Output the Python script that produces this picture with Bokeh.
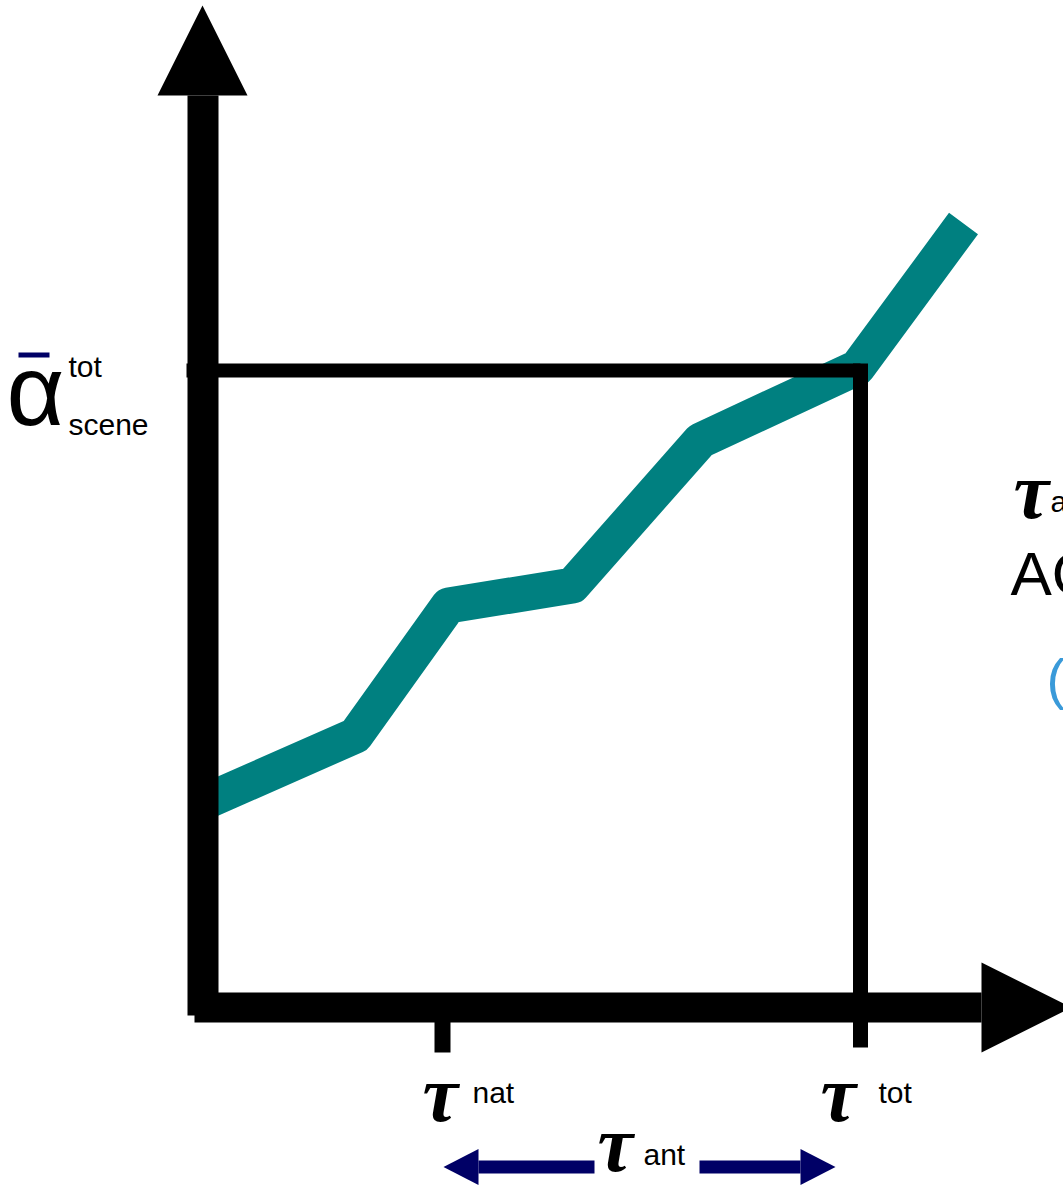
from bokeh.plotting import figure
from bokeh.models import Range1d
from bokeh.core.properties import value
from bokeh.embed import file_html
from bokeh.resources import INLINE

# ---- data (schematic units: origin at the axes' corner) ----
tau_curve = [0, 152, 245, 369, 497, 654, 760]
alpha_curve = [205, 272, 402, 422, 567, 640, 784]
tau_nat = 239
tau_tot = 657
alpha_scene = 637
tau_labels = ["nat", "tot"]
alpha_label = "α"
alpha_sup = "tot"
alpha_sub = "scene"

TEAL = "#008080"
NAVY = "#000066"
BLACK = "#000000"
SERIF = value("Liberation Serif")
SANS = value("Liberation Sans")

# page pixel -> data: x = px - 203, y = 1007 - py
p = figure(width=1063, height=1187, output_backend="svg", toolbar_location=None,
           x_range=Range1d(-203, 860), y_range=Range1d(-180, 1007),
           min_border=0, background_fill_color="white", border_fill_color="white")
p.axis.visible = False
p.grid.visible = False
p.outline_line_color = None

# teal curve
p.line(tau_curve, alpha_curve, line_color=TEAL, line_width=36,
       line_join="round", line_cap="butt")

# axes (thick bars with arrowheads)
p.quad(left=[-16], right=[15], bottom=[-8], top=[912], fill_color=BLACK, line_color=None)
p.patch([-46, 44, -1], [912, 912, 1002], fill_color=BLACK, line_color=None)
p.quad(left=[-9], right=[778], bottom=[-15], top=[15], fill_color=BLACK, line_color=None)
p.patch([778, 778, 868], [-45, 45, 0], fill_color=BLACK, line_color=None)

# tau_nat tick
p.segment(x0=[tau_nat], y0=[-10], x1=[tau_nat], y1=[-45], line_color=BLACK,
          line_width=16, line_cap="butt")
# alpha_scene / tau_tot guide lines
p.segment(x0=[-17], y0=[alpha_scene], x1=[tau_tot], y1=[alpha_scene], line_color=BLACK,
          line_width=14, line_cap="butt")
p.segment(x0=[tau_tot], y0=[alpha_scene + 7], x1=[tau_tot], y1=[-40], line_color=BLACK,
          line_width=15, line_cap="butt")

# y label: alpha-bar with tot / scene
p.text(x=[-197], y=[618], text=[alpha_label], text_font=SANS, text_font_size=value("100px"),
       text_color=BLACK, text_baseline="alphabetic", text_align="left")
p.quad(left=[-185], right=[-154], bottom=[650], top=[655], fill_color=NAVY, line_color=None)
p.text(x=[-135], y=[641], text=[alpha_sup], text_font=SANS, text_font_size=value("30px"),
       text_color=BLACK, text_baseline="alphabetic")
p.text(x=[-135], y=[583], text=[alpha_sub], text_font=SANS, text_font_size=value("30px"),
       text_color=BLACK, text_baseline="alphabetic")

# x labels
tau_x = [tau_nat - 20, tau_tot - 40]
p.text(x=tau_x, y=[-86, -86], text=["τ", "τ"], text_font=SERIF,
       text_font_style="bold italic", text_font_size=value("80px"), text_color=BLACK,
       text_baseline="alphabetic")
p.text(x=[tau_nat + 30, tau_tot + 18], y=[-85, -85], text=tau_labels, text_font=SANS,
       text_font_size=value("30px"), text_color=BLACK, text_baseline="alphabetic")

# tau_ant with double arrow
p.text(x=[394], y=[-136], text=["τ"], text_font=SERIF, text_font_style="bold italic",
       text_font_size=value("80px"), text_color=BLACK, text_baseline="alphabetic")
p.text(x=[440], y=[-147], text=["ant"], text_font=SANS, text_font_size=value("30px"),
       text_color=BLACK, text_baseline="alphabetic")
p.segment(x0=[275, 496], y0=[-159.5, -159.5], x1=[391, 597], y1=[-159.5, -159.5],
          line_color=NAVY, line_width=13, line_cap="butt")
p.patch([275, 275, 240], [-141.5, -177.5, -159.5], fill_color=NAVY, line_color=None)
p.patch([597, 597, 632], [-141.5, -177.5, -159.5], fill_color=NAVY, line_color=None)

# clipped right-hand annotation
p.text(x=[810], y=[517], text=["τ"], text_font=SERIF, text_font_style="bold italic",
       text_font_size=value("80px"), text_color=BLACK, text_baseline="alphabetic")
p.text(x=[847], y=[506], text=["ant"], text_font=SANS, text_font_size=value("30px"),
       text_color=BLACK, text_baseline="alphabetic")
p.text(x=[807], y=[434], text=["AOD"], text_font=SANS, text_font_size=value("62px"),
       text_color=BLACK, text_baseline="alphabetic")
p.text(x=[843], y=[329], text=["("], text_font=SANS, text_font_size=value("56px"),
       text_color="#3A9AD9", text_baseline="alphabetic")

open("out.html", "w").write(file_html(p, INLINE))
